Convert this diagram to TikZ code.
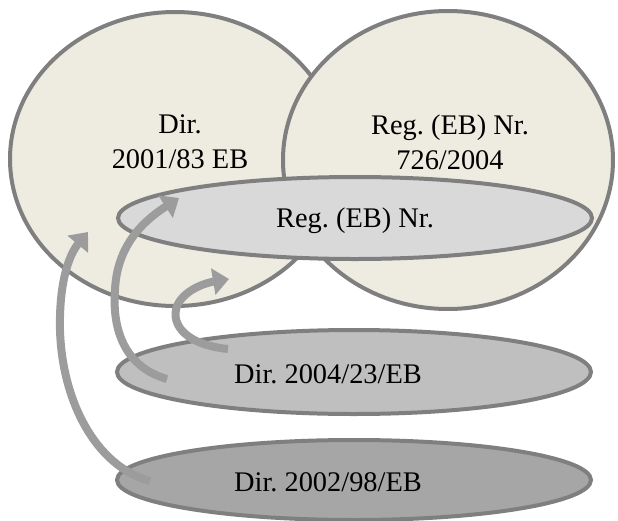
\documentclass[tikz,border=0pt]{standalone}
\usepackage{fontspec}
\setmainfont{Liberation Serif}
\usetikzlibrary{shapes.geometric,arrows.meta}
\definecolor{venntan}{HTML}{EEECE1}
\definecolor{venngray}{HTML}{7F7F7F}
\definecolor{regfill}{HTML}{D9D9D9}
\definecolor{dirfill}{HTML}{BFBFBF}
\definecolor{dirfilldark}{HTML}{A6A6A6}
\definecolor{arrowgray}{HTML}{9C9C9C}
\frenchspacing
\begin{document}
\begin{tikzpicture}[x=0.5pt,y=-0.5pt,
  venn/.style={draw=venngray, line width=2pt, ellipse, inner sep=0pt},
  lbl/.style={align=center, font=\fontsize{14.2}{17.5}\selectfont},
  ribbon/.style={draw=arrowgray, line width=4pt, -{Triangle[width=13pt,length=8pt]}}]
\useasboundingbox (0,0) rectangle (618,521);
% the two big sets
\node[venn, fill=venntan, minimum width=165pt, minimum height=147pt] (dir2001) at (175,159) {};
\node[venn, fill=venntan, minimum width=165pt, minimum height=149pt] (reg726) at (448,160) {};
\node[lbl] (dir2001txt) at (180,142) {Dir.\\2001/83 EB};
\node[lbl] (reg726txt) at (450,142) {Reg. (EB) Nr.\\726/2004};
% the common part
\node[venn, fill=regfill, minimum width=237pt, minimum height=41pt] (regnr) at (355,218) {};
\node[lbl] (regnrtxt) at (355,221) {Reg. (EB) Nr.};
% the two directives below
\node[venn, fill=dirfill, minimum width=237pt, minimum height=42pt] (dir2004) at (354,372) {};
\node[lbl] (dir2004txt) at (328,374) {Dir. 2004/23/EB};
\node[venn, fill=dirfilldark, minimum width=237pt, minimum height=40pt] (dir2002) at (354,480) {};
\node[lbl] (dir2002txt) at (328,482) {Dir. 2002/98/EB};
% curved arrows
\coordinate (tailA) at (150,481);
\coordinate (headA) at (88,232);
\coordinate (tailB) at (167,379);
\coordinate (headB) at (179,198);
\coordinate (tailC) at (228,349);
\coordinate (headC) at (229,279);
\draw[ribbon] (tailA) .. controls (95,466) and (62,400) .. (60,330) .. controls (59,285) and (68,256) .. (headA);
\draw[ribbon] (tailB) .. controls (125,367) and (112,330) .. (115,290) .. controls (117,242) and (148,218) .. (headB);
\draw[ribbon] (tailC) .. controls (188,345) and (170,326) .. (177,306) .. controls (184,290) and (205,283) .. (headC);
\end{tikzpicture}
\end{document}
